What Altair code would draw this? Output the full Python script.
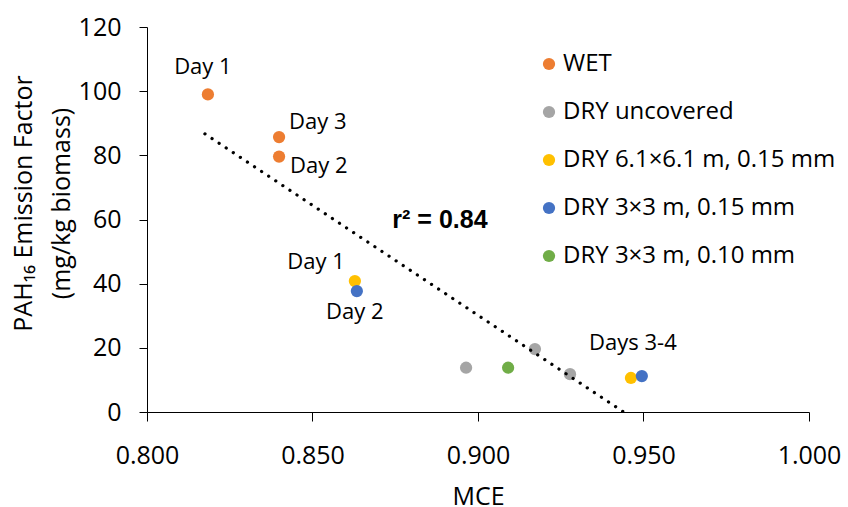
import altair as alt
import pandas as pd

# Measured points: modified combustion efficiency vs PAH16 emission factor
mce = [0.8184, 0.8399, 0.8399, 0.8964, 0.9172, 0.9278, 0.8628, 0.9462, 0.8634, 0.9495, 0.9091]
ef = [99.0, 85.7, 79.6, 13.8, 19.6, 11.8, 40.8, 10.6, 37.7, 11.2, 13.8]
groups = ["WET", "WET", "WET",
          "DRY uncovered", "DRY uncovered", "DRY uncovered",
          "DRY 6.1×6.1 m, 0.15 mm", "DRY 6.1×6.1 m, 0.15 mm",
          "DRY 3×3 m, 0.15 mm", "DRY 3×3 m, 0.15 mm",
          "DRY 3×3 m, 0.10 mm"]

group_order = ["WET", "DRY uncovered", "DRY 6.1×6.1 m, 0.15 mm",
               "DRY 3×3 m, 0.15 mm", "DRY 3×3 m, 0.10 mm"]
group_colors = ["#ED7D31", "#A5A5A5", "#FFC000", "#4472C4", "#70AD47"]

# Linear trend line endpoints (fit across all points, cut at zero)
trend_x = [0.8175, 0.9440]
trend_y = [86.7, 0.0]

FONT = "Open Sans"
BOLD_FONT = "Liberation Sans"

pts = pd.DataFrame({"MCE": mce, "EF": ef, "Group": groups})
trend = pd.DataFrame({"MCE": trend_x, "EF": trend_y})

x_scale = alt.Scale(domain=[0.8, 1.0], nice=False, zero=False)
y_scale = alt.Scale(domain=[0, 120], nice=False)

x_axis = alt.Axis(values=[0.8, 0.85, 0.9, 0.95, 1.0], format=".3f", grid=False,
                  domainColor="black", tickColor="black", tickSize=9, labelFlush=False,
                  labelFontSize=25, labelFont=FONT, labelColor="black", labelPadding=22,
                  title="MCE", titleFontSize=25, titleFont=FONT, titleFontWeight="normal",
                  titleColor="black", titlePadding=16)
y_axis = alt.Axis(values=[0, 20, 40, 60, 80, 100, 120], grid=False,
                  domainColor="black", tickColor="black", tickSize=8, labelFlush=False,
                  labelFontSize=25, labelFont=FONT, labelColor="black", labelPadding=18,
                  title=["PAH₁₆ Emission Factor", "(mg/kg biomass)"],
                  titleFontSize=25, titleFont=FONT, titleFontWeight="normal",
                  titleColor="black", titlePadding=4, titleY=176, titleLineHeight=38)

points = alt.Chart(pts).mark_circle(size=150, opacity=1).encode(
    x=alt.X("MCE:Q", scale=x_scale, axis=x_axis),
    y=alt.Y("EF:Q", scale=y_scale, axis=y_axis),
    color=alt.Color("Group:N",
                    scale=alt.Scale(domain=group_order, range=group_colors),
                    legend=alt.Legend(title=None, orient="none", legendX=390, legendY=25,
                                      symbolType="circle", symbolSize=150,
                                      symbolStrokeWidth=0, labelFontSize=24,
                                      labelFont=FONT, labelColor="black", labelLimit=0,
                                      labelOffset=2, rowPadding=24, padding=0)),
)

trend_line = alt.Chart(trend).mark_line(
    color="black", strokeWidth=3.2, strokeDash=[0.1, 8.4], strokeCap="round"
).encode(x=alt.X("MCE:Q", scale=x_scale), y=alt.Y("EF:Q", scale=y_scale))


def note(text, x, y, dx, dy, align="center", bold=False, size=22):
    df = pd.DataFrame({"MCE": [x], "EF": [y], "t": [text]})
    return alt.Chart(df).mark_text(
        align=align, baseline="middle", dx=dx, dy=dy, fontSize=size,
        font=BOLD_FONT if bold else FONT,
        fontWeight="bold" if bold else "normal", color="black"
    ).encode(x=alt.X("MCE:Q", scale=x_scale), y=alt.Y("EF:Q", scale=y_scale),
             text="t:N")


notes = [
    note("Day 1", mce[0], ef[0], -5, -27),
    note("Day 3", mce[1], ef[1], 10, -15, align="left"),
    note("Day 2", mce[2], ef[2], 11, 9, align="left"),
    note("Day 1", mce[6], ef[6], -10, -19, align="right"),
    note("Day 2", mce[8], ef[8], -2, 21),
    note("Days 3-4", mce[7], ef[7], 2, -35),
    note("r² = 0.84", 0.8885, 59.8, 0, 0, bold=True, size=25),
]

chart = alt.layer(points, trend_line, *notes).properties(
    width=662, height=385,
    autosize=alt.AutoSizeParams(type="none"),
    padding={"left": 147, "top": 27, "right": 39, "bottom": 95},
).configure_view(stroke=None)

chart.save("out.html", embed_options={"renderer": "svg", "actions": False})
